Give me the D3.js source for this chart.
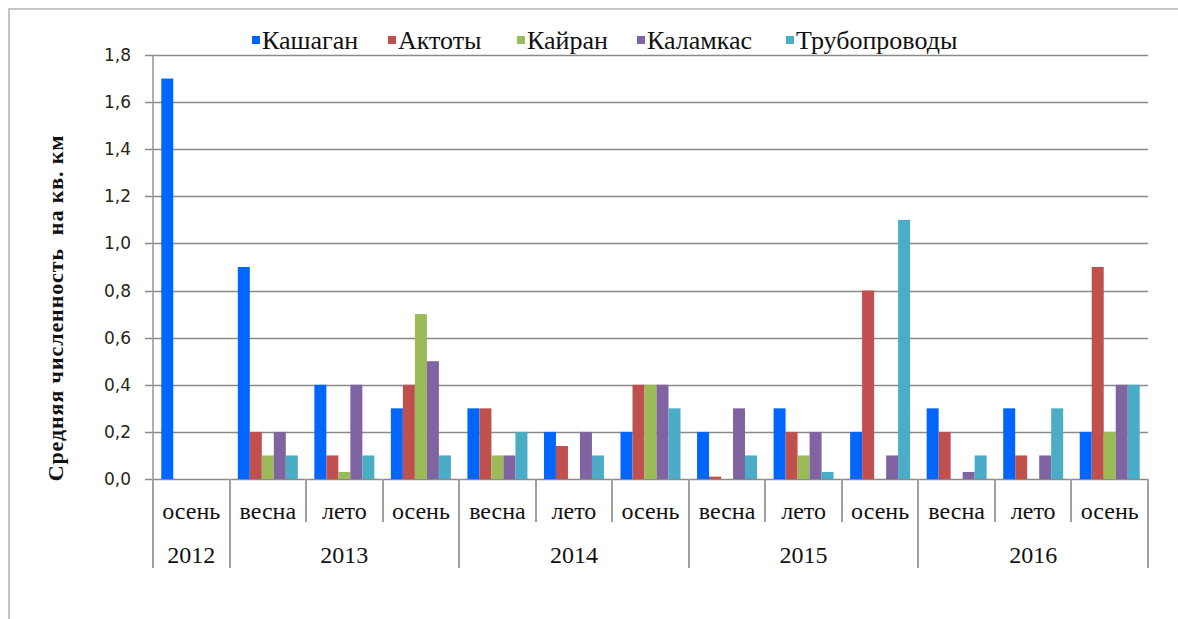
<!DOCTYPE html>
<html lang="ru">
<head>
    <meta charset="UTF-8">
    <title>Средняя численность на кв. км</title>
    <style>
        body{
            margin:0;
            background:#fff;
        }
        svg text{
            fill:#111;
        }
    </style>
    <script src="https://cdn.jsdelivr.net/npm/d3@7"></script>
</head>
<body>
<div id="container"></div>
<script>

// categories: season + year
var seasons = ["осень", "весна", "лето", "осень", "весна", "лето", "осень",
    "весна", "лето", "осень", "весна", "лето", "осень"];
var years = ["2012", "2013", "2013", "2013", "2014", "2014", "2014",
    "2015", "2015", "2015", "2016", "2016", "2016"];

var seriesNames = ["Кашаган", "Актоты", "Кайран", "Каламкас", "Трубопроводы"];
var colors = ["#0066ff", "#c0504d", "#9bbb59", "#8064a2", "#4bacc6"];

var kashagan     = [1.7, 0.9, 0.4, 0.3, 0.3, 0.2, 0.2, 0.2, 0.3, 0.2, 0.3, 0.3, 0.2];
var aktoty       = [0,   0.2, 0.1, 0.4, 0.3, 0.14, 0.4, 0.01, 0.2, 0.8, 0.2, 0.1, 0.9];
var kairan       = [0,   0.1, 0.03, 0.7, 0.1, 0,  0.4, 0,   0.1, 0,   0,   0,   0.2];
var kalamkas     = [0,   0.2, 0.4, 0.5, 0.1, 0.2, 0.4, 0.3, 0.2, 0.1, 0.03, 0.1, 0.4];
var pipelines    = [0,   0.1, 0.1, 0.1, 0.2, 0.1, 0.3, 0.1, 0.03, 1.1, 0.1, 0.3, 0.4];

var yTicks = [0, 0.2, 0.4, 0.6, 0.8, 1.0, 1.2, 1.4, 1.6, 1.8];

var allValues = [kashagan, aktoty, kairan, kalamkas, pipelines];

var w = 1178, h = 619;
var plotLeft = 153, plotRight = 1148, plotTop = 55, plotBottom = 479;

var svg = d3.select("#container")
        .append("svg")
        .attr("width", w)
        .attr("height", h);

// outer frame
svg.append("rect")
        .attr("x", 9).attr("y", 9)
        .attr("width", 1300).attr("height", 800)
        .attr("fill", "none")
        .attr("stroke", "#c4c4c4")
        .attr("stroke-width", 2);

var idx = d3.range(seasons.length);

var x0 = d3.scaleBand().domain(idx).range([plotLeft, plotRight]).padding(0);
var groupW = 60;
var x1 = d3.scaleBand().domain(d3.range(seriesNames.length))
        .range([(x0.bandwidth() - groupW) / 2, (x0.bandwidth() + groupW) / 2]);

var yScale = d3.scaleLinear().domain([0, 1.8]).range([plotBottom, plotTop]);

var fmt = function(d) { return d3.format(".1f")(d).replace(".", ","); };

// gridlines
svg.append("g")
        .selectAll("line")
        .data(yTicks)
        .enter()
        .append("line")
        .attr("x1", plotLeft - 8)
        .attr("x2", plotRight)
        .attr("y1", function(d) { return Math.round(yScale(d)) + 0.5; })
        .attr("y2", function(d) { return Math.round(yScale(d)) + 0.5; })
        .attr("stroke", "#8a8a8a")
        .attr("stroke-width", 1.6);

// y axis line
svg.append("line")
        .attr("x1", plotLeft).attr("x2", plotLeft)
        .attr("y1", plotTop).attr("y2", plotBottom)
        .attr("stroke", "#9a9a9a")
        .attr("stroke-width", 1.6);

// y tick labels
svg.append("g")
        .selectAll("text")
        .data(yTicks)
        .enter()
        .append("text")
        .text(fmt)
        .attr("x", 131)
        .attr("y", function(d) { return yScale(d) + 6; })
        .attr("text-anchor", "end")
        .attr("font-family", "'DejaVu Sans', sans-serif")
        .attr("font-size", "17px")
        .style("fill", "#2a2418");

// y title
svg.append("text")
        .text("Средняя численность  на кв. км")
        .attr("transform", "translate(63," + 308 + ") rotate(-90)")
        .attr("text-anchor", "middle")
        .attr("font-family", "'Liberation Serif', 'Times New Roman', serif")
        .attr("font-weight", "bold")
        .attr("font-size", "22px")
        .attr("letter-spacing", "0.9px")
        .style("white-space", "pre");

// bars
var groups = svg.append("g")
        .selectAll("g")
        .data(idx)
        .enter()
        .append("g")
        .attr("transform", function(i) { return "translate(" + x0(i) + ",0)"; });

groups.selectAll("rect")
        .data(function(i) {
            return allValues.map(function(s, k) { return {k: k, v: s[i]}; })
                    .filter(function(d) { return d.v > 0; });
        })
        .enter()
        .append("rect")
        .attr("x", function(d) { return x1(d.k); })
        .attr("y", function(d) { return yScale(d.v); })
        .attr("width", x1.bandwidth())
        .attr("height", function(d) { return plotBottom - yScale(d.v); })
        .attr("fill", function(d) { return colors[d.k]; });

// x axis separators
var yearStarts = idx.filter(function(i) { return i === 0 || years[i] !== years[i - 1]; });
var sepG = svg.append("g");
idx.concat([seasons.length]).forEach(function(i) {
    var xPos = i < seasons.length ? x0(i) : plotRight;
    var isYear = i === seasons.length || yearStarts.indexOf(i) >= 0;
    sepG.append("line")
            .attr("x1", Math.round(xPos)).attr("x2", Math.round(xPos))
            .attr("y1", plotBottom)
            .attr("y2", isYear ? 568 : 522)
            .attr("stroke", "#a0a0a0")
            .attr("stroke-width", 2);
});

// season labels
svg.append("g")
        .selectAll("text")
        .data(idx)
        .enter()
        .append("text")
        .text(function(i) { return seasons[i]; })
        .attr("x", function(i) { return x0(i) + x0.bandwidth() / 2; })
        .attr("y", 519)
        .attr("text-anchor", "middle")
        .attr("font-family", "'Liberation Serif', 'Times New Roman', serif")
        .attr("font-size", "24px");

// year labels
var yearGroups = yearStarts.map(function(s, j) {
    var e = j < yearStarts.length - 1 ? yearStarts[j + 1] : seasons.length;
    return {year: years[s], x: (x0(s) + (e < seasons.length ? x0(e) : plotRight)) / 2};
});
svg.append("g")
        .selectAll("text")
        .data(yearGroups)
        .enter()
        .append("text")
        .text(function(d) { return d.year; })
        .attr("x", function(d) { return d.x; })
        .attr("y", 563)
        .attr("text-anchor", "middle")
        .attr("font-family", "'Liberation Serif', 'Times New Roman', serif")
        .attr("font-size", "24px");

// legend
var legendX = [252, 388, 517, 637, 786];
var legend = svg.append("g")
        .selectAll("g")
        .data(seriesNames)
        .enter()
        .append("g")
        .attr("transform", function(d, i) { return "translate(" + legendX[i] + ",0)"; });
legend.append("rect")
        .attr("x", 0).attr("y", 36)
        .attr("width", 8).attr("height", 8)
        .attr("fill", function(d, i) { return colors[i]; });
legend.append("text")
        .text(function(d) { return d; })
        .attr("x", 10)
        .attr("y", 49)
        .attr("font-family", "'Liberation Serif', 'Times New Roman', serif")
        .attr("font-size", "26px");

</script>
</body>
</html>
